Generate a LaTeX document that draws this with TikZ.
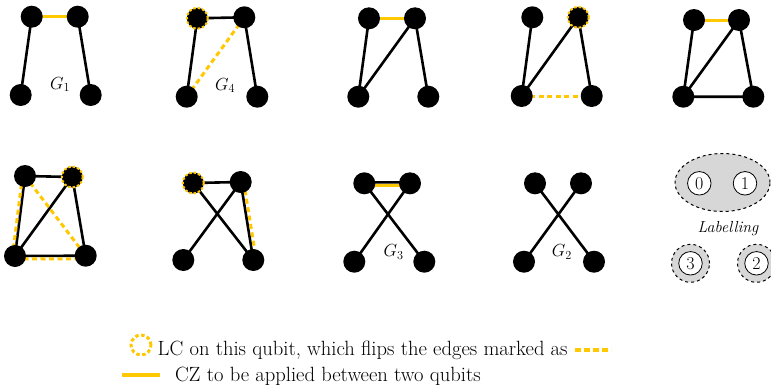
\RequirePackage{fix-cm}
\documentclass[tikz,border=0pt]{standalone}
\usetikzlibrary{shapes.geometric}
\definecolor{lcy}{RGB}{255,200,0}
\definecolor{lblgray}{RGB}{215,215,215}
\tikzset{
  qubit/.style={circle,fill=black,minimum size=22pt,inner sep=0pt},
  lcqubit/.style={qubit,draw=lcy,dashed,dash pattern=on 2.5pt off 2pt,line width=2pt,minimum size=21pt},
  edge/.style={line width=2.6pt,black},
  cz/.style={line width=3pt,lcy},
  flip/.style={line width=3pt,lcy,dash pattern=on 5pt off 3.5pt},
  glabel/.style={anchor=base west,inner sep=0pt,font=\fontsize{17.5}{20}\selectfont},
  lblcirc/.style={circle,draw=black,fill=white,line width=0.8pt,minimum size=23.5pt,inner sep=0pt,font=\fontsize{18}{20}\selectfont},
  lblouter/.style={circle,draw=black,dashed,fill=lblgray,line width=1pt,minimum size=38pt,inner sep=0pt},
  legtext/.style={anchor=base west,inner sep=0pt,font=\fontsize{20.6}{24}\selectfont}
}
\begin{document}
\begin{tikzpicture}[x=1pt,y=-1pt]
\useasboundingbox (0,0) rectangle (771,389);
% ---------- Graph 1 ----------
\coordinate (a1) at (31.7,16.7); \coordinate (b1) at (77.7,16.7);
\coordinate (c1) at (20.7,95); \coordinate (d1) at (90.7,95);
\draw[cz] (a1) -- (b1);
\draw[edge] (a1) -- (c1) (b1) -- (d1);
\foreach \n in {a1,b1,c1,d1} \node[qubit] (n\n) at (\n) {};
\node[glabel] (g1) at (50,89) {$G_1$};
% ---------- Graph 2 ----------
\coordinate (a2) at (197.3,18.3); \coordinate (b2) at (244.3,17.3);
\coordinate (c2) at (186.7,96.7); \coordinate (d2) at (257.3,96.7);
\draw[edge] (a2) -- (b2) (a2) -- (c2) (b2) -- (d2);
\draw[flip] (b2) -- (c2);
\foreach \n in {b2,c2,d2} \node[qubit] (n\n) at (\n) {};
\node[lcqubit] (na2) at (a2) {};
\node[glabel] (g4) at (215,90) {$G_4$};
% ---------- Graph 3 ----------
\coordinate (a3) at (369,18.3); \coordinate (b3) at (415,18.3);
\coordinate (c3) at (358.3,96.7); \coordinate (d3) at (428.3,96.7);
\draw[cz] (a3) -- (b3);
\draw[edge] (a3) -- (c3) (b3) -- (c3) (b3) -- (d3);
\foreach \n in {a3,b3,c3,d3} \node[qubit] (n\n) at (\n) {};
% ---------- Graph 4 ----------
\coordinate (a4) at (532.3,17.3); \coordinate (b4) at (578.3,17.3);
\coordinate (c4) at (521.7,96); \coordinate (d4) at (591.7,96);
\draw[edge] (a4) -- (c4) (b4) -- (c4) (b4) -- (d4);
\draw[flip] (c4) -- (d4);
\foreach \n in {a4,c4,d4} \node[qubit] (n\n) at (\n) {};
\node[lcqubit] (nb4) at (b4) {};
% ---------- Graph 5 ----------
\coordinate (a5) at (694,20); \coordinate (b5) at (739,20);
\coordinate (c5) at (683.3,96.7); \coordinate (d5) at (753.3,96.7);
\draw[cz] (a5) -- (b5);
\draw[edge] (a5) -- (c5) (b5) -- (c5) (b5) -- (d5) (c5) -- (d5);
\foreach \n in {a5,b5,c5,d5} \node[qubit] (n\n) at (\n) {};
% ---------- Graph 6 ----------
\coordinate (a6) at (25,176); \coordinate (b6) at (72.3,177);
\coordinate (c6) at (15,256); \coordinate (d6) at (85.7,255.7);
\draw[edge] (a6) -- (b6) (a6) -- (c6) (b6) -- (c6) (b6) -- (d6) (c6) -- (d6);
\draw[flip] (a6) -- (d6);
\draw[flip] ([xshift=-2.5pt]a6) -- ([xshift=-2.5pt]c6);
\draw[flip] ([yshift=-3pt]c6) -- ([yshift=-3pt]d6);
\foreach \n in {a6,c6,d6} \node[qubit] (n\n) at (\n) {};
\node[lcqubit] (nb6) at (b6) {};
% ---------- Graph 7 ----------
\coordinate (a7) at (193.3,183); \coordinate (b7) at (240.7,182);
\coordinate (c7) at (183.3,260); \coordinate (d7) at (253.3,260);
\draw[edge] (a7) -- (b7) (a7) -- (d7) (b7) -- (c7) (b7) -- (d7);
\draw[flip] ([xshift=3pt]b7) -- ([xshift=3pt]d7);
\foreach \n in {b7,c7,d7} \node[qubit] (n\n) at (\n) {};
\node[lcqubit] (na7) at (a7) {};
% ---------- Graph 8 ----------
\coordinate (a8) at (364.3,183.3); \coordinate (b8) at (410,183.3);
\coordinate (c8) at (354.3,261.7); \coordinate (d8) at (424.3,261.7);
\draw[edge] ([yshift=1pt]a8) -- ([yshift=1pt]b8) (a8) -- (d8) (b8) -- (c8);
\draw[cz] ([yshift=-1.8pt]a8) -- ([yshift=-1.8pt]b8);
\foreach \n in {a8,b8,c8,d8} \node[qubit] (n\n) at (\n) {};
\node[glabel] (g3) at (383.3,256.7) {$G_3$};
% ---------- Graph 9 ----------
\coordinate (a9) at (535,183.3); \coordinate (b9) at (581,183.3);
\coordinate (c9) at (524,261.7); \coordinate (d9) at (594,261.7);
\draw[edge] (a9) -- (d9) (b9) -- (c9);
\foreach \n in {a9,b9,c9,d9} \node[qubit] (n\n) at (\n) {};
\node[glabel] (g2) at (551.7,256.7) {$G_2$};
% ---------- Labelling ----------
\node[ellipse,draw=black,dashed,fill=lblgray,line width=1pt,minimum width=95pt,minimum height=58pt,inner sep=0pt] (ell) at (722.5,182.5) {};
\node[lblcirc] (l0) at (699.3,183.3) {0};
\node[lblcirc] (l1) at (745,183.3) {1};
\node[anchor=base west,inner sep=0pt,font=\fontsize{16}{18}\selectfont\itshape] (lab) at (697.5,232.3) {Labelling};
\node[lblouter] (o3) at (690.5,263.3) {};
\node[lblouter] (o2) at (756.5,263.3) {};
\node[lblcirc] (l3) at (690.5,263.3) {3};
\node[lblcirc] (l2) at (756.5,263.3) {2};
% ---------- Legend ----------
\node[circle,draw=lcy,fill=white,line width=3pt,dash pattern=on 3.5pt off 2.5pt,minimum size=20pt,inner sep=0pt] (legring) at (141,345) {};
\node[legtext] (leg1) at (157.5,355) {LC on this qubit, which flips the edges marked as};
\coordinate (fl1) at (575,350); \coordinate (fl2) at (611,350);
\draw[lcy,line width=4.5pt,dash pattern=on 6pt off 3pt] (fl1) -- (fl2);
\coordinate (cz1) at (121.5,375); \coordinate (cz2) at (160,375);
\draw[lcy,line width=3.5pt] (cz1) -- (cz2);
\node[legtext] (leg2) at (175,381.7) {CZ to be applied between two qubits};
\end{tikzpicture}
\end{document}
